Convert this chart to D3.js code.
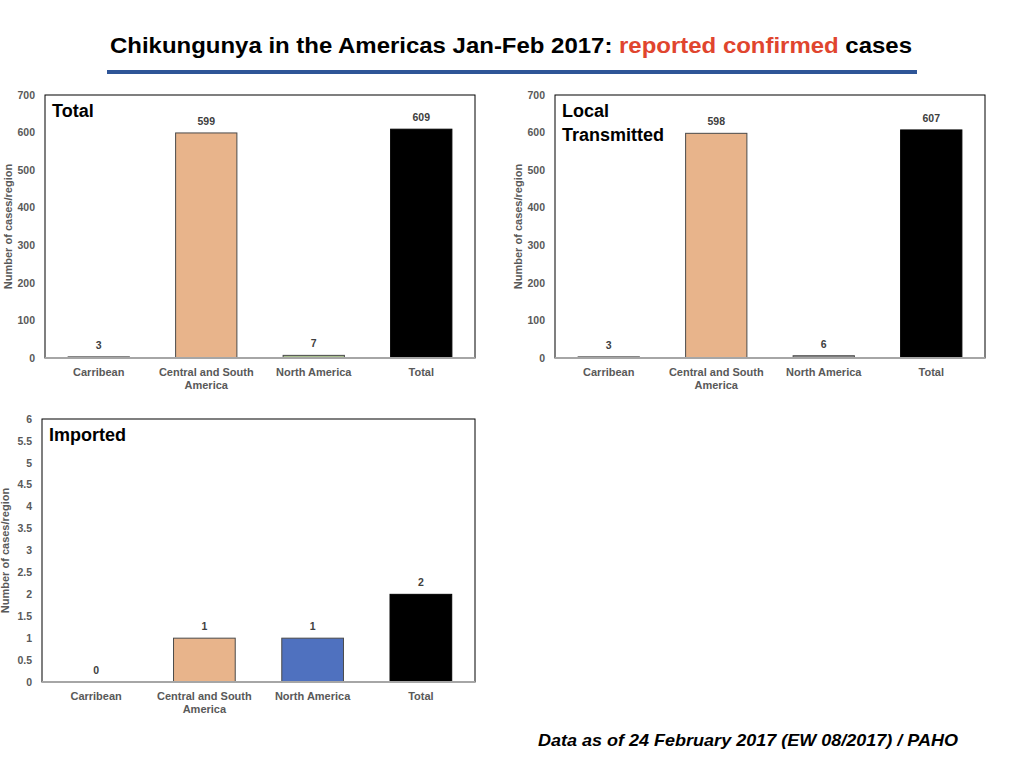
<!DOCTYPE html>
<html>
<head>
<meta charset="utf-8">
<script src="https://d3js.org/d3.v7.min.js"></script>
<style>
  body { margin: 0; background: #fff; }
  svg { display: block; font-family: "Liberation Sans", Arial, sans-serif; }
</style>
</head>
<body>
<div id="chart"></div>
<script>
var regions = ["Carribean", "Central and South America", "North America", "Total"];
var totalCases = [3, 599, 7, 609];
var localCases = [3, 598, 6, 607];
var importedCases = [0, 1, 1, 2];
var totalColors = ["#808080", "#e8b48b", "#a9c18f", "#000000"];
var localColors = ["#808080", "#e8b48b", "#8c8c8c", "#000000"];
var importedColors = ["#808080", "#e8b48b", "#4f71bf", "#000000"];
var bigTicks = [0, 100, 200, 300, 400, 500, 600, 700];
var smallTicks = [0, 0.5, 1, 1.5, 2, 2.5, 3, 3.5, 4, 4.5, 5, 5.5, 6];

var svg = d3.select("#chart").append("svg")
  .attr("width", 1024)
  .attr("height", 768);

// title
var title = svg.append("text")
  .attr("x", 110)
  .attr("y", 53)
  .attr("textLength", 802)
  .attr("lengthAdjust", "spacingAndGlyphs")
  .style("font-size", "22px")
  .style("font-weight", "bold");
title.append("tspan").attr("fill", "#000").text("Chikungunya in the Americas Jan-Feb 2017: ");
title.append("tspan").attr("fill", "#e0452e").text("reported confirmed");
title.append("tspan").attr("fill", "#000").text(" cases");

svg.append("rect")
  .attr("x", 107).attr("y", 70)
  .attr("width", 810).attr("height", 4)
  .attr("fill", "#2e5597");

function drawPanel(opt){
  var g = svg.append("g");
  var x = d3.scaleBand().domain(regions)
    .range([opt.left, opt.right]).paddingInner(0.43).paddingOuter(0.215);
  var y = d3.scaleLinear().domain([0, opt.max]).range([opt.bottom, opt.top]);

  g.append("rect")
    .attr("x", opt.left).attr("y", opt.top)
    .attr("width", opt.right - opt.left).attr("height", opt.bottom - opt.top)
    .attr("fill", "none").attr("stroke", "#000").attr("stroke-width", 1);

  // y ticks
  g.selectAll("text.ytick").data(opt.ticks).enter().append("text")
    .attr("class", "ytick")
    .attr("x", opt.left - 10)
    .attr("y", function(d){ return y(d); })
    .attr("dy", "0.35em")
    .attr("text-anchor", "end")
    .attr("fill", "#595959")
    .style("font-size", "10.5px")
    .style("font-weight", "bold")
    .text(function(d){ return d; });

  g.append("text")
    .attr("transform", "translate(" + (opt.left - 33) + "," + ((opt.top + opt.bottom) / 2) + ") rotate(-90)")
    .attr("text-anchor", "middle")
    .attr("fill", "#595959")
    .style("font-size", "11px")
    .style("font-weight", "bold")
    .text("Number of cases/region");

  // bars
  g.selectAll("rect.bar").data(opt.values).enter().append("rect")
    .attr("class", "bar")
    .attr("x", function(d, i){ return x(regions[i]); })
    .attr("y", function(d){ return y(d); })
    .attr("width", x.bandwidth())
    .attr("height", function(d){ return opt.bottom - y(d); })
    .attr("fill", function(d, i){ return opt.colors[i]; })
    .attr("stroke", function(d, i){ return i === 3 ? "#000" : "#4a4a4a"; })
    .attr("stroke-width", 1)
    .style("display", function(d){ return d === 0 ? "none" : null; });

  // baseline
  g.append("line")
    .attr("x1", opt.left).attr("x2", opt.right)
    .attr("y1", opt.bottom).attr("y2", opt.bottom)
    .attr("stroke", "#a6a6a6").attr("stroke-width", 2);

  // value labels
  g.selectAll("text.val").data(opt.values).enter().append("text")
    .attr("class", "val")
    .attr("x", function(d, i){ return x(regions[i]) + x.bandwidth() / 2; })
    .attr("y", function(d){ return y(d) - 8; })
    .attr("text-anchor", "middle")
    .attr("fill", "#404040")
    .style("font-size", "10.5px")
    .style("font-weight", "bold")
    .text(function(d){ return d; });

  // category labels
  var cat = g.selectAll("text.cat").data(regions).enter().append("text")
    .attr("class", "cat")
    .attr("x", function(d){ return x(d) + x.bandwidth() / 2; })
    .attr("y", opt.bottom + 18)
    .attr("text-anchor", "middle")
    .attr("fill", "#595959")
    .style("font-size", "11px")
    .style("font-weight", "bold");
  cat.each(function(d){
    var t = d3.select(this);
    var lines = d === "Central and South America" ? ["Central and South", "America"] : [d];
    lines.forEach(function(l, k){
      t.append("tspan")
        .attr("x", x(d) + x.bandwidth() / 2)
        .attr("dy", k === 0 ? 0 : 13)
        .text(l);
    });
  });

  // panel title
  var pt = g.append("text")
    .attr("x", opt.left + 7)
    .attr("y", opt.top + 22)
    .attr("fill", "#000")
    .style("font-size", "18px")
    .style("font-weight", "bold");
  opt.label.forEach(function(l, k){
    pt.append("tspan").attr("x", opt.left + 7).attr("dy", k === 0 ? 0 : 24).text(l);
  });
}

drawPanel({left: 45, right: 475, top: 95, bottom: 358, max: 700,
  ticks: bigTicks, values: totalCases, colors: totalColors, label: ["Total"]});
drawPanel({left: 555, right: 985, top: 95, bottom: 358, max: 700,
  ticks: bigTicks, values: localCases, colors: localColors, label: ["Local", "Transmitted"]});
drawPanel({left: 42, right: 475, top: 419, bottom: 682, max: 6,
  ticks: smallTicks, values: importedCases, colors: importedColors, label: ["Imported"]});

svg.append("text")
  .attr("x", 538)
  .attr("y", 746)
  .attr("textLength", 420)
  .attr("lengthAdjust", "spacingAndGlyphs")
  .attr("fill", "#000")
  .style("font-size", "17px")
  .style("font-weight", "bold")
  .style("font-style", "italic")
  .text("Data as of 24 February 2017 (EW 08/2017) / PAHO");
</script>
</body>
</html>
